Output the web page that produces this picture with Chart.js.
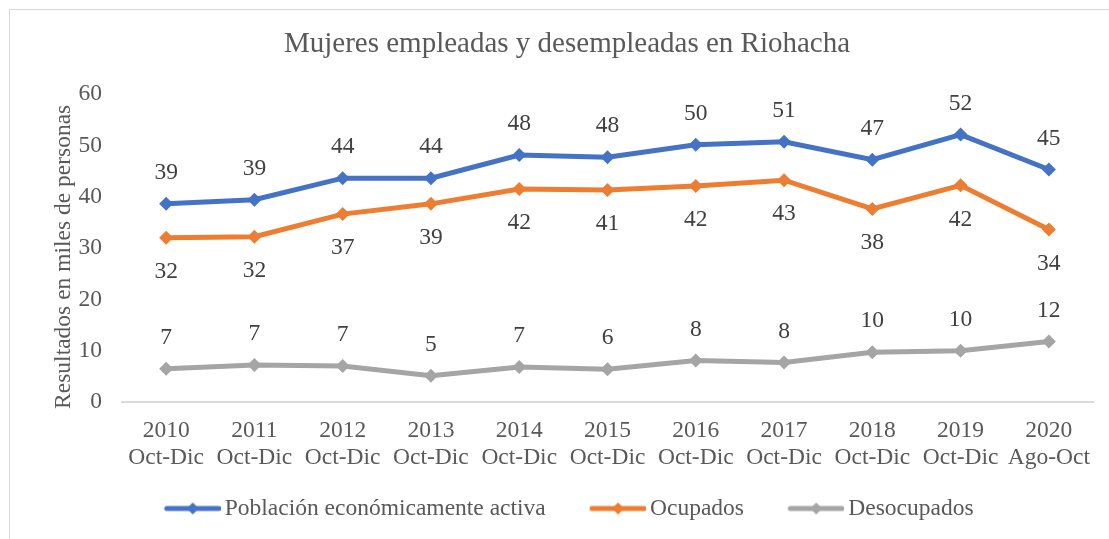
<!DOCTYPE html>
<html>
<head>
<meta charset="utf-8">
<title>Mujeres empleadas y desempleadas en Riohacha</title>
<script src="https://cdn.jsdelivr.net/npm/chart.js@4.4.1/dist/chart.umd.min.js"></script>
<style>
  html, body { margin: 0; padding: 0; background: #ffffff; }
  #chartCanvas { display: block; }
</style>
</head>
<body>
<canvas id="chartCanvas" width="1109" height="539"></canvas>
<script>
/* data */
const years = ['2010', '2011', '2012', '2013', '2014', '2015', '2016', '2017', '2018', '2019', '2020'];
const periods = ['Oct-Dic', 'Oct-Dic', 'Oct-Dic', 'Oct-Dic', 'Oct-Dic', 'Oct-Dic', 'Oct-Dic', 'Oct-Dic', 'Oct-Dic', 'Oct-Dic', 'Ago-Oct'];

const seriesNames = ['Población económicamente activa', 'Ocupados', 'Desocupados'];
const activa = [38.6, 39.4, 43.6, 43.6, 48.1, 47.7, 50.1, 50.7, 47.2, 52.1, 45.3];
const ocupados = [32.0, 32.2, 36.6, 38.6, 41.5, 41.3, 42.1, 43.2, 37.6, 42.2, 33.6];
const desocupados = [6.5, 7.2, 7.0, 5.1, 6.8, 6.4, 8.1, 7.7, 9.7, 10.0, 11.8];

const yTicks = [0, 10, 20, 30, 40, 50, 60];

/* styling */
const colors = ['#4472C4', '#ED7D31', '#A5A5A5'];
const labelSide = ['above', 'below', 'above'];
const serif = "'Liberation Serif', 'Times New Roman', serif";
const textGray = '#595959';

const categories = years.map((y, i) => [y, periods[i]]);

/* legend marker: thick line with a diamond, drawn on a small canvas */
function legendSwatch(color) {
  const c = document.createElement('canvas');
  c.width = 68; c.height = 16;
  const g = c.getContext('2d');
  g.strokeStyle = color;
  g.lineWidth = 5;
  g.lineCap = 'round';
  g.beginPath(); g.moveTo(14, 8); g.lineTo(66, 8); g.stroke();
  g.fillStyle = color;
  g.beginPath();
  g.moveTo(40, 2); g.lineTo(46, 8); g.lineTo(40, 14); g.lineTo(34, 8);
  g.closePath(); g.fill();
  return c;
}

/* outer frame like the spreadsheet chart border */
const framePlugin = {
  id: 'frame',
  beforeDraw(chart) {
    const ctx = chart.ctx;
    ctx.save();
    ctx.fillStyle = '#ffffff';
    ctx.fillRect(0, 0, chart.width, chart.height);
    ctx.strokeStyle = '#d9d9d9';
    ctx.lineWidth = 1;
    ctx.strokeRect(9.5, 9.5, chart.width + 50, chart.height + 50);
    ctx.restore();
  }
};

/* value labels above / below each point */
const valueLabels = {
  id: 'valueLabels',
  afterDatasetsDraw(chart) {
    const ctx = chart.ctx;
    ctx.save();
    ctx.font = '23.5px ' + serif;
    ctx.fillStyle = '#404040';
    ctx.textAlign = 'center';
    ctx.textBaseline = 'middle';
    chart.data.datasets.forEach((ds, di) => {
      const meta = chart.getDatasetMeta(di);
      const off = labelSide[di] === 'below' ? 34 : -31;
      meta.data.forEach((pt, i) => {
        ctx.fillText(String(Math.round(ds.data[i])), pt.x, pt.y + off);
      });
    });
    ctx.restore();
  }
};

function makeSet(label, data, color) {
  return {
    label: label,
    data: data,
    borderColor: color,
    backgroundColor: color,
    borderWidth: 5,
    pointStyle: 'rectRot',
    pointRadius: 7,
    pointHoverRadius: 7,
    pointBackgroundColor: color,
    pointBorderWidth: 0,
    tension: 0,
    fill: false
  };
}

const swatches = colors.map(legendSwatch);

new Chart(document.getElementById('chartCanvas'), {
  type: 'line',
  data: {
    labels: categories,
    datasets: [
      makeSet(seriesNames[0], activa, colors[0]),
      makeSet(seriesNames[1], ocupados, colors[1]),
      makeSet(seriesNames[2], desocupados, colors[2])
    ]
  },
  options: {
    responsive: false,
    animation: false,
    devicePixelRatio: 1,
    layout: { padding: { left: 41, right: 16, top: 0, bottom: 8.75 } },
    plugins: {
      title: {
        display: true,
        text: 'Mujeres empleadas y desempleadas en Riohacha',
        color: textGray,
        font: { family: serif, size: 29, weight: 'normal' },
        padding: { top: 27, bottom: 32.2 }
      },
      legend: {
        position: 'bottom',
        labels: {
          usePointStyle: true,
          pointStyleWidth: 52.5,
          padding: 40,
          color: textGray,
          font: { family: serif, size: 23.5 },
          generateLabels(chart) {
            return chart.data.datasets.map((ds, i) => ({
              text: ds.label,
              pointStyle: swatches[i],
              fillStyle: colors[i],
              strokeStyle: colors[i],
              lineWidth: 0,
              fontColor: textGray,
              hidden: false,
              datasetIndex: i
            }));
          }
        }
      },
      tooltip: { enabled: false }
    },
    scales: {
      x: {
        offset: true,
        grid: { display: false, drawTicks: false },
        border: { display: true, color: '#d9d9d9', width: 2 },
        ticks: {
          color: textGray,
          // mirror avoids clipping the second label line to the squeezed axis box;
          // the negative padding puts the lines back below the axis
          mirror: true,
          padding: -42,
          maxRotation: 0,
          autoSkip: false,
          font: { family: serif, size: 23.5, lineHeight: 1.136 }
        },
        afterFit(scale) { scale.height = 54.75; }
      },
      y: {
        min: 0,
        max: 60,
        grid: { display: false, drawTicks: false },
        border: { display: false },
        afterBuildTicks(scale) { scale.ticks = yTicks.map(v => ({ value: v })); },
        ticks: {
          color: textGray,
          padding: 20,
          font: { family: serif, size: 23.5 }
        },
        title: {
          display: true,
          text: 'Resultados en miles de personas   ',
          color: textGray,
          font: { family: serif, size: 23.5 },
          padding: { top: 9, bottom: 0 }
        },
        afterFit(scale) { scale.width = 81; }
      }
    }
  },
  plugins: [framePlugin, valueLabels]
});
</script>
</body>
</html>
